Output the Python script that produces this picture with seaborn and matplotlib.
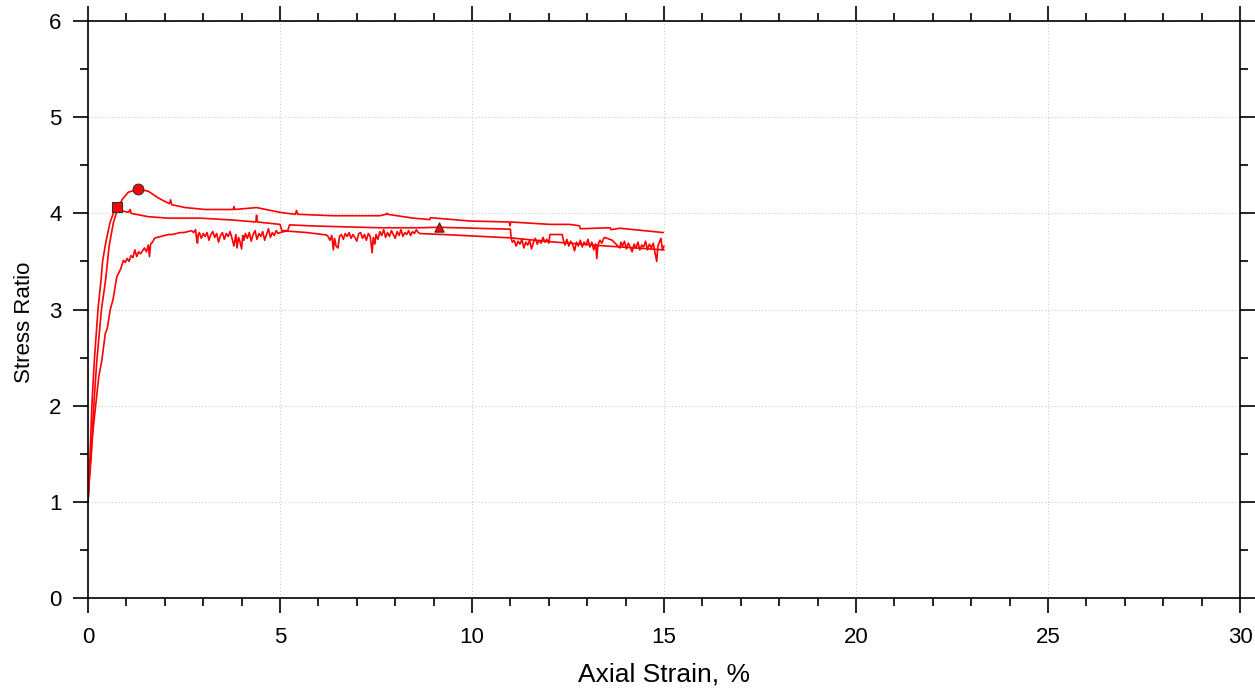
import pandas as pd
import seaborn as sns
import matplotlib.pyplot as plt
from matplotlib.ticker import MultipleLocator

# Specimen A (circle marker at peak), (strain %, stress ratio)
a_points = [(0, 1.0), (0.04, 1.25), (0.08, 1.45), (0.15, 2.0), (0.23, 2.47), (0.35, 3.0),
            (0.46, 3.31), (0.55, 3.66), (0.66, 3.9), (0.78, 4.06), (0.9, 4.15), (1.05, 4.22),
            (1.31, 4.25), (1.57, 4.23), (1.83, 4.16), (2.12, 4.1), (2.15, 4.14), (2.18, 4.09),
            (2.53, 4.06), (3.05, 4.04), (3.78, 4.04), (3.8, 4.07), (3.82, 4.04), (4.39, 4.06),
            (5.0, 4.01), (5.4, 3.99), (5.43, 4.03), (5.46, 3.99), (6.39, 3.975), (7.6, 3.975),
            (7.76, 3.99), (7.78, 4.0), (7.8, 3.99), (8.47, 3.95), (8.9, 3.935), (8.92, 3.955),
            (9.95, 3.92), (10.97, 3.91), (10.99, 3.87), (11.01, 3.91), (12.03, 3.885),
            (12.55, 3.885), (12.8, 3.87), (12.82, 3.84), (13.6, 3.85), (13.62, 3.83),
            (13.85, 3.845), (14.98, 3.8)]

# Specimen B (square marker at peak, triangle later)
b_points = [(0, 1.0), (0.05, 1.45), (0.1, 2.0), (0.165, 2.47), (0.26, 3.0), (0.34, 3.31),
            (0.38, 3.5), (0.46, 3.69), (0.57, 3.9), (0.66, 4.0), (0.76, 4.07), (0.85, 4.03),
            (1.05, 4.01), (1.1, 4.04), (1.12, 4.0), (1.57, 3.965), (2.09, 3.95), (2.92, 3.95),
            (3.78, 3.93), (4.37, 3.91), (4.39, 3.98), (4.41, 3.91), (5.0, 3.885), (5.05, 3.82),
            (5.2, 3.82), (5.25, 3.88), (5.78, 3.87), (6.64, 3.86), (7.6, 3.85), (8.65, 3.85),
            (9.14, 3.855), (11.0, 3.835),
            (11.02, 3.74), (11.05, 3.7), (11.1, 3.72), (11.15, 3.66), (11.2, 3.71), (11.25, 3.68),
            (11.3, 3.73), (11.35, 3.64), (11.4, 3.7), (11.45, 3.67), (11.5, 3.72), (11.55, 3.63),
            (11.6, 3.7), (11.65, 3.74), (11.7, 3.68), (11.75, 3.72), (11.8, 3.69), (11.85, 3.75),
            (11.9, 3.7), (11.95, 3.73), (12.0, 3.69), (12.03, 3.78), (12.35, 3.78), (12.38, 3.72),
            (12.42, 3.67), (12.47, 3.73), (12.52, 3.66), (12.57, 3.71), (12.62, 3.68),
            (12.67, 3.61), (12.72, 3.7), (12.77, 3.66), (12.82, 3.72), (12.87, 3.65),
            (12.92, 3.7), (12.97, 3.67), (13.02, 3.73), (13.07, 3.65), (13.12, 3.7),
            (13.17, 3.62), (13.22, 3.68), (13.25, 3.53), (13.28, 3.67), (13.33, 3.72),
            (13.38, 3.69), (13.43, 3.74), (13.46, 3.75), (13.65, 3.72), (13.85, 3.64),
            (13.88, 3.7), (13.92, 3.66), (13.97, 3.71), (14.02, 3.63), (14.07, 3.69),
            (14.12, 3.65), (14.17, 3.6), (14.22, 3.68), (14.27, 3.64), (14.32, 3.7),
            (14.37, 3.62), (14.42, 3.67), (14.47, 3.65), (14.52, 3.71), (14.57, 3.62),
            (14.62, 3.68), (14.67, 3.64), (14.72, 3.69), (14.77, 3.58), (14.81, 3.5),
            (14.84, 3.66), (14.88, 3.7), (14.92, 3.74), (14.96, 3.62), (15.0, 3.66)]

# Specimen C (noisy trace)
c_points = [(0, 1.0), (0.05, 1.35), (0.1, 1.6), (0.14, 1.78), (0.2, 2.0), (0.28, 2.3),
            (0.36, 2.47), (0.45, 2.75), (0.5, 2.8), (0.58, 3.0), (0.65, 3.1), (0.7, 3.22),
            (0.75, 3.34), (0.85, 3.42), (0.92, 3.51), (0.97, 3.49), (1.02, 3.53), (1.07, 3.5),
            (1.12, 3.56), (1.17, 3.54), (1.22, 3.62), (1.27, 3.55), (1.32, 3.6), (1.37, 3.58),
            (1.42, 3.61), (1.47, 3.64), (1.52, 3.6), (1.57, 3.67), (1.6, 3.55), (1.63, 3.68),
            (1.68, 3.7), (1.73, 3.74), (1.8, 3.75), (1.9, 3.76), (2.0, 3.77), (2.1, 3.78),
            (2.2, 3.78), (2.3, 3.79), (2.4, 3.8), (2.5, 3.8), (2.6, 3.81), (2.7, 3.82),
            (2.75, 3.8), (2.8, 3.83), (2.83, 3.73), (2.85, 3.69), (2.87, 3.78), (2.9, 3.8),
            (2.95, 3.74), (3.0, 3.79), (3.05, 3.76), (3.1, 3.8), (3.15, 3.72), (3.2, 3.78),
            (3.25, 3.81), (3.3, 3.75), (3.35, 3.79), (3.4, 3.7), (3.45, 3.77), (3.5, 3.8),
            (3.55, 3.73), (3.6, 3.79), (3.65, 3.76), (3.7, 3.81), (3.75, 3.74), (3.8, 3.66),
            (3.85, 3.78), (3.88, 3.64), (3.92, 3.75), (3.96, 3.7), (4.0, 3.63), (4.03, 3.77),
            (4.06, 3.72), (4.1, 3.79), (4.15, 3.74), (4.2, 3.8), (4.25, 3.71), (4.3, 3.78),
            (4.35, 3.82), (4.4, 3.73), (4.45, 3.79), (4.5, 3.76), (4.55, 3.81), (4.6, 3.72),
            (4.65, 3.78), (4.7, 3.84), (4.75, 3.75), (4.8, 3.8), (4.85, 3.77), (4.9, 3.82),
            (4.95, 3.79), (5.0, 3.8), (5.17, 3.816), (5.7, 3.8), (6.21, 3.775), (6.25, 3.76),
            (6.3, 3.72), (6.35, 3.77), (6.39, 3.62), (6.42, 3.74), (6.46, 3.66), (6.51, 3.64),
            (6.55, 3.76), (6.6, 3.78), (6.65, 3.73), (6.7, 3.79), (6.75, 3.76), (6.8, 3.8),
            (6.85, 3.74), (6.9, 3.78), (6.95, 3.75), (7.0, 3.71), (7.05, 3.79), (7.1, 3.8),
            (7.15, 3.74), (7.2, 3.78), (7.25, 3.72), (7.3, 3.79), (7.35, 3.76), (7.4, 3.59),
            (7.43, 3.75), (7.47, 3.68), (7.5, 3.78), (7.55, 3.73), (7.6, 3.81), (7.65, 3.77),
            (7.7, 3.83), (7.75, 3.75), (7.8, 3.8), (7.85, 3.76), (7.9, 3.82), (7.95, 3.78),
            (8.0, 3.74), (8.05, 3.81), (8.1, 3.77), (8.15, 3.83), (8.2, 3.76), (8.25, 3.8),
            (8.3, 3.78), (8.35, 3.82), (8.4, 3.77), (8.45, 3.81), (8.5, 3.79), (8.55, 3.83),
            (8.6, 3.8), (8.65, 3.79), (9.5, 3.775), (10.5, 3.755), (11.0, 3.745),
            (12.03, 3.705), (13.5, 3.66), (15.0, 3.62)]

# marker positions: circle (A peak), square (B peak), triangle (B)
peaks_strain = [1.31, 0.76, 9.14]
peaks_ratio = [4.25, 4.07, 3.86]

frames = []
for name, pts in [("A", a_points), ("B", b_points), ("C", c_points)]:
    frames.append(pd.DataFrame(pts, columns=["strain", "ratio"]).assign(spec=name))
df = pd.concat(frames, ignore_index=True)

sns.set_style("white")
plt.rcParams["font.family"] = ["Liberation Sans", "DejaVu Sans"]
plt.rcParams["text.color"] = "black"
plt.rcParams["axes.labelcolor"] = "black"

fig = plt.figure(figsize=(12.55, 6.93), dpi=100)
ax = fig.add_axes([88 / 1255, 1 - 598 / 693, (1240 - 88) / 1255, (598 - 21) / 693])

sns.lineplot(data=df, x="strain", y="ratio", units="spec", estimator=None, sort=False,
             color="#ff0000", linewidth=1.2, ax=ax, legend=False)

marker_kw = dict(color="#ff0000", edgecolor="#333333", linewidth=0.8, zorder=5, ax=ax, legend=False)
sns.scatterplot(x=[peaks_strain[0]], y=[peaks_ratio[0]], marker="o", s=60, **marker_kw)
sns.scatterplot(x=[peaks_strain[1]], y=[peaks_ratio[1]], marker="s", s=55, **marker_kw)
sns.scatterplot(x=[peaks_strain[2]], y=[peaks_ratio[2]], marker="^", s=45, **marker_kw)

ax.set_xlim(0, 30)
ax.set_ylim(0, 6)
ax.xaxis.set_major_locator(MultipleLocator(5))
ax.xaxis.set_minor_locator(MultipleLocator(1))
ax.yaxis.set_major_locator(MultipleLocator(1))
ax.yaxis.set_minor_locator(MultipleLocator(0.5))

ax.grid(True, which="major", color="#cccccc", linestyle=(0, (1, 2)), linewidth=0.8)
for s in ax.spines.values():
    s.set_visible(True)
    s.set_color("black")
    s.set_linewidth(1.2)

ax.tick_params(which="both", direction="out", top=True, right=True, bottom=True, left=True,
               colors="black", labelcolor="black")
ax.tick_params(which="major", length=11, width=1.2, labelsize=16)
ax.tick_params(which="minor", length=6, width=1.2)
ax.tick_params(axis="x", which="major", pad=10)
ax.tick_params(axis="y", which="major", pad=8)

ax.set_xlabel("Axial Strain, %", fontsize=19, labelpad=10)
ax.set_ylabel("Stress Ratio", fontsize=16)
ax.yaxis.set_label_coords(-0.046, 0.478)

plt.savefig("out.png", dpi=100)
